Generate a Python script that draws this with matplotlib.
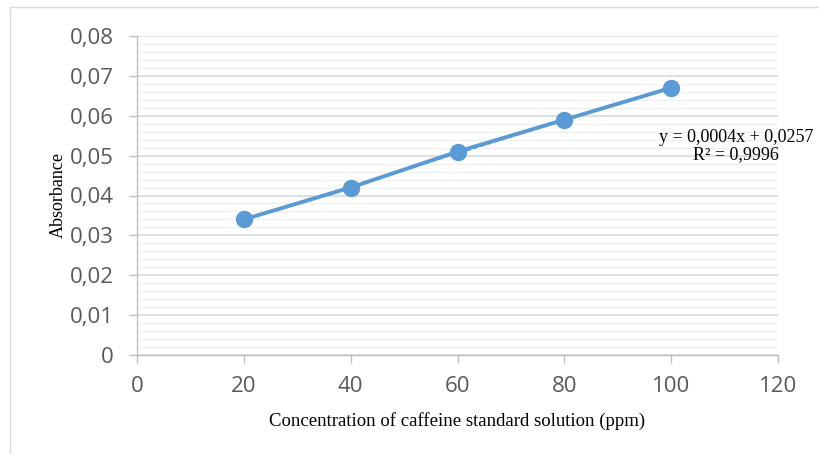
import numpy as np
import matplotlib
matplotlib.use("Agg")
import matplotlib.pyplot as plt
from matplotlib.ticker import MultipleLocator, FuncFormatter
from matplotlib.patches import Rectangle

# Data
concentration = [20, 40, 60, 80, 100]
absorbance = [0.034, 0.042, 0.051, 0.059, 0.067]

x_label = "Concentration of caffeine standard solution (ppm)"
y_label = "Absorbance"
eq_text = "y = 0,0004x + 0,0257\nR² = 0,9996"

blue = "#5B9BD5"
tick_gray = "#595959"
axis_gray = "#BFBFBF"

fig = plt.figure(figsize=(8.19, 4.54), dpi=100)
ax = fig.add_axes([137 / 819, 1 - 355 / 454, (778 - 137) / 819, (355 - 36) / 454])

# light outer frame like the office chart area
fig.patches.append(Rectangle((10 / 819, -0.1), 1.2, 1 - 7 / 454 + 0.1,
                             transform=fig.transFigure, fill=False,
                             edgecolor="#D9D9D9", linewidth=1))

# linear trendline from the data
slope, intercept = np.polyfit(concentration, absorbance, 1)
xs = np.array([concentration[0], concentration[-1]])
ax.plot(xs, slope * xs + intercept, color=blue, linestyle=(0, (2, 1.5)), linewidth=1.5, zorder=3)

ax.plot(concentration, absorbance, color=blue, linewidth=2.8, marker="o",
        markersize=11.5, zorder=4)

ax.set_xlim(0, 120)
ax.set_ylim(0, 0.08)
ax.xaxis.set_major_locator(MultipleLocator(20))
ax.yaxis.set_major_locator(MultipleLocator(0.01))
ax.yaxis.set_minor_locator(MultipleLocator(0.002))

def comma_fmt(v, pos):
    if abs(v) < 1e-12:
        return "0"
    return f"{v:.2f}".replace(".", ",")

ax.yaxis.set_major_formatter(FuncFormatter(comma_fmt))

ax.grid(axis="y", which="major", color="#D9D9D9", linewidth=1.2)
ax.grid(axis="y", which="minor", color="#F0F0F0", linewidth=1.0)
ax.set_axisbelow(True)

for side in ["top", "right"]:
    ax.spines[side].set_visible(False)
for side in ["left", "bottom"]:
    ax.spines[side].set_color(axis_gray)
    ax.spines[side].set_linewidth(1.0)

ax.tick_params(axis="both", which="major", direction="out", length=6, width=1,
               color=axis_gray, labelcolor=tick_gray, labelsize=16)
ax.tick_params(axis="y", which="minor", length=0)
ax.tick_params(axis="y", pad=11)
ax.tick_params(axis="x", pad=9)
for lab in ax.get_xticklabels() + ax.get_yticklabels():
    lab.set_family("Open Sans")

ax.set_xlabel(x_label, family="Liberation Serif", fontsize=13.5, labelpad=11)
ax.set_ylabel(y_label, family="Liberation Serif", fontsize=13, labelpad=2)

fig.text(736 / 819, 1 - 146 / 454, eq_text, family="Liberation Serif", fontsize=13,
         ha="center", va="center", linespacing=1.05)

fig.savefig("out.png", dpi=100)
